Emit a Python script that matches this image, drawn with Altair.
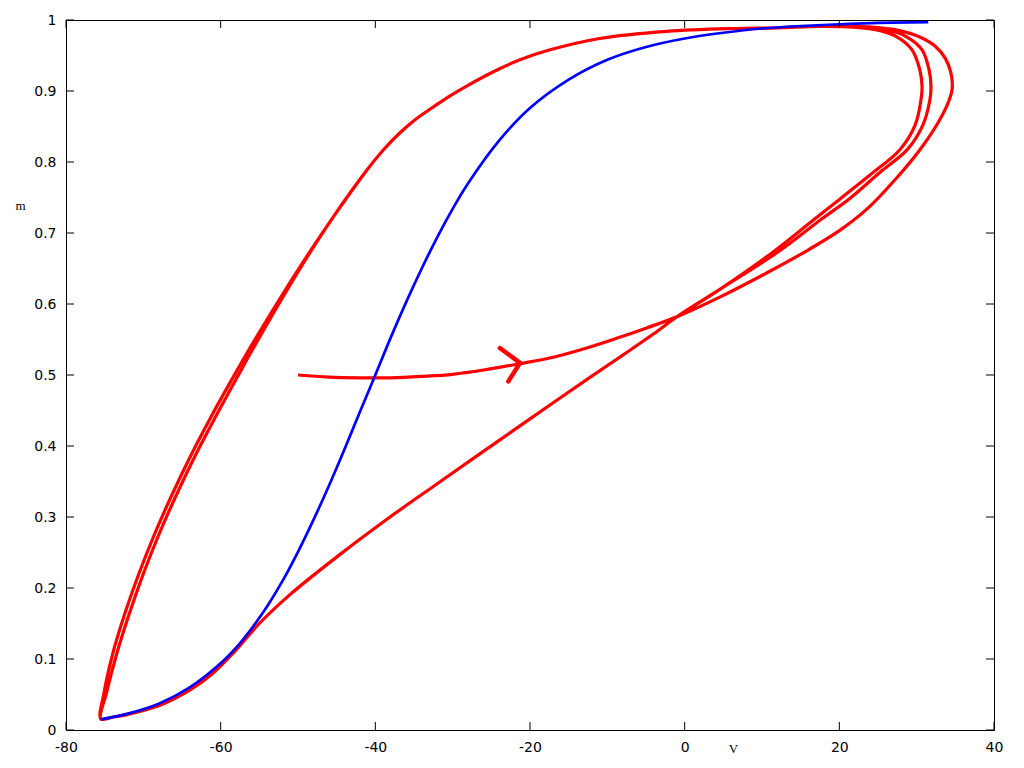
import altair as alt
import pandas as pd

# ---------------- data ----------------
X_TICKS = [-80, -60, -40, -20, 0, 20, 40]
Y_TICKS = [0, 0.1, 0.2, 0.3, 0.4, 0.5, 0.6, 0.7, 0.8, 0.9, 1]

# blue curve (m-infinity nullcline)
BLUE_V = [-75.5, -72, -68, -64, -60, -58, -56, -54, -52, -50, -48, -46, -44, -42,
          -40, -38, -36, -34, -32, -30, -28, -24, -20, -15, -10, -5, 0, 5, 10, 15,
          20, 25, 31.5]
BLUE_M = [0.015, 0.023, 0.037, 0.060, 0.094, 0.116, 0.143, 0.174, 0.210, 0.251,
          0.296, 0.344, 0.395, 0.448, 0.500, 0.553, 0.603, 0.650, 0.694, 0.734,
          0.770, 0.830, 0.876, 0.916, 0.944, 0.962, 0.974, 0.982, 0.988, 0.9915,
          0.994, 0.996, 0.997]

# red trajectory pieces
START_V = [-50, -46, -42, -38, -34, -30, -26, -21.3, -17, -13, -9, -5, -1]
START_M = [0.500, 0.497, 0.496, 0.496, 0.498, 0.501, 0.507, 0.516, 0.525, 0.537,
           0.551, 0.566, 0.582]

LOOP1_V = [4.6, 10.65, 15.95, 20.1, 23.7, 27.2, 30.4, 32.8, 34.2, 34.6, 34.4, 33.7,
           32.4, 30.4, 27.8, 25.3, 21.8, 17.5]
LOOP1_M = [0.610, 0.644, 0.676, 0.704, 0.735, 0.775, 0.817, 0.856, 0.887, 0.904,
           0.927, 0.946, 0.963, 0.976, 0.985, 0.989, 0.991, 0.991]

TOP_V = [12, 6.3, -2.3, -11, -17.4, -21.3, -24, -28.2, -30.6, -32.5, -34.9, -36.84,
         -38.97]
TOP_M = [0.989, 0.988, 0.984, 0.974, 0.958, 0.944, 0.931, 0.907, 0.8915, 0.8775,
         0.8592, 0.8408, 0.8169]

LEFT1_V = [-41.06, -45.54, -49.64, -55.33, -58.38, -61.20, -63.89, -66.31, -68.58,
           -70.65, -72.42, -73.97, -75.09, -75.49]
LEFT2_V = [-41.06, -45.54, -49.51, -54.94, -57.86, -60.62, -63.31, -65.73, -68.00,
           -70.07, -71.84, -73.45, -74.77, -75.49]
LEFT_M = [0.789, 0.721, 0.654, 0.554, 0.497, 0.442, 0.386, 0.331, 0.275, 0.218,
          0.163, 0.107, 0.052, 0.0155]

BOTTOM_V = [-74, -72, -68, -64, -61, -58.4, -55, -51, -44.6, -38.1, -32.5, -27,
            -22, -17, -12.2, -8, -4, -1]
BOTTOM_M = [0.018, 0.022, 0.034, 0.056, 0.080, 0.108, 0.150, 0.191, 0.247, 0.300,
            0.343, 0.385, 0.423, 0.461, 0.497, 0.528, 0.558, 0.582]

DIAG_V = [4.6]
DIAG_M = [0.621]

LOOP2_V = [12.3, 17.75, 21.4, 25.3, 28.75, 30.8, 31.7, 31.85, 31.6, 30.7, 28.75,
           26.3, 22.7, 17.5]
LOOP2_M = [0.675, 0.720, 0.749, 0.786, 0.817, 0.852, 0.887, 0.906, 0.930, 0.958,
           0.976, 0.986, 0.990, 0.991]
LOOP3_V = [11.4, 16.6, 20.1, 24.0, 27.8, 29.8, 30.55, 30.7, 30.4, 29.4, 27.5, 25.3,
           21.8, 17.5]
LOOP3_M = [0.673, 0.718, 0.748, 0.782, 0.817, 0.852, 0.887, 0.906, 0.930, 0.958,
           0.976, 0.985, 0.990, 0.991]

# hand-drawn arrow head (tip and two stroke ends)
ARROW_TIP_V, ARROW_TIP_M = -21.3, 0.517
ARROW_END_V = [-23.9, -22.8]
ARROW_END_M = [0.538, 0.491]

# ---------------- build tables ----------------
path_v = (START_V + LOOP1_V + TOP_V + LEFT1_V + BOTTOM_V + DIAG_V + LOOP2_V + TOP_V
          + LEFT2_V + BOTTOM_V + DIAG_V + LOOP3_V + TOP_V + LEFT1_V[:2])
path_m = (START_M + LOOP1_M + TOP_M + LEFT_M + BOTTOM_M + DIAG_M + LOOP2_M + TOP_M
          + LEFT_M + BOTTOM_M + DIAG_M + LOOP3_M + TOP_M + LEFT_M[:2])
red_df = pd.DataFrame({"V": path_v, "m": path_m, "i": range(len(path_v))})
blue_df = pd.DataFrame({"V": BLUE_V, "m": BLUE_M, "i": range(len(BLUE_V))})
arrow_df = pd.DataFrame({"V": [ARROW_TIP_V] * 2, "m": [ARROW_TIP_M] * 2,
                         "V2": ARROW_END_V, "m2": ARROW_END_M})
xt_df = pd.DataFrame({"V": X_TICKS})
yt_df = pd.DataFrame({"m": Y_TICKS})

W, H = 928, 710
xs = alt.Scale(domain=[-80, 40], nice=False, zero=False)
ys = alt.Scale(domain=[0, 1], nice=False, zero=False)

x_axis = alt.Axis(values=X_TICKS, ticks=False, domain=False, grid=False,
                  labelFlush=False, labelOverlap=False,
                  labelFontSize=14, labelFont="DejaVu Sans", labelColor="black",
                  labelPadding=10, labelExpr="replace(datum.label, '\u2212', '-')",
                  title="V", titleFont="Liberation Serif", titleFontSize=13,
                  titleFontWeight="normal", titleColor="black",
                  titleX=667, titleY=18, titleBaseline="middle", titleAlign="center")
y_axis = alt.Axis(values=Y_TICKS, ticks=False, domain=False, grid=False, format="~g",
                  labelFlush=False, labelOverlap=False,
                  labelFontSize=14, labelFont="DejaVu Sans", labelColor="black",
                  labelPadding=10,
                  title="m", titleFont="Liberation Serif", titleFontSize=13,
                  titleFontWeight="normal", titleColor="black", titleAngle=0,
                  titleX=-46, titleY=185, titleBaseline="middle", titleAlign="center")

X = alt.X("V:Q", scale=xs, axis=x_axis)
Y = alt.Y("m:Q", scale=ys, axis=y_axis)

red = alt.Chart(red_df).mark_line(color="#ff0000", strokeWidth=3.2,
                                  interpolate="catmull-rom").encode(
    x=X, y=Y, order="i:Q")

blue = alt.Chart(blue_df).mark_line(color="#0000ff", strokeWidth=2.7,
                                    interpolate="catmull-rom").encode(
    x=X, y=Y, order="i:Q")

arrow = alt.Chart(arrow_df).mark_rule(color="#ff0000", strokeWidth=4.5,
                                      strokeCap="round").encode(
    x=X, y=Y, x2="V2:Q", y2="m2:Q")

TL = 8
xb = alt.Chart(xt_df).mark_rule(color="black", strokeWidth=1).encode(
    x=X, y=alt.value(H - TL), y2=alt.value(H))
xtop = alt.Chart(xt_df).mark_rule(color="black", strokeWidth=1).encode(
    x=X, y=alt.value(0), y2=alt.value(TL))
yl = alt.Chart(yt_df).mark_rule(color="black", strokeWidth=1).encode(
    y=Y, x=alt.value(0), x2=alt.value(TL))
yr = alt.Chart(yt_df).mark_rule(color="black", strokeWidth=1).encode(
    y=Y, x=alt.value(W - TL), x2=alt.value(W))

chart = alt.layer(red, blue, arrow, xb, xtop, yl, yr).properties(
    width=W, height=H,
    autosize=alt.AutoSizeParams(type="none"),
    padding={"left": 58, "top": 12, "right": 14, "bottom": 30},
    background="white",
).configure_view(stroke="black", strokeWidth=1)

chart.save("out.html", embed_options={"renderer": "svg", "actions": False})
